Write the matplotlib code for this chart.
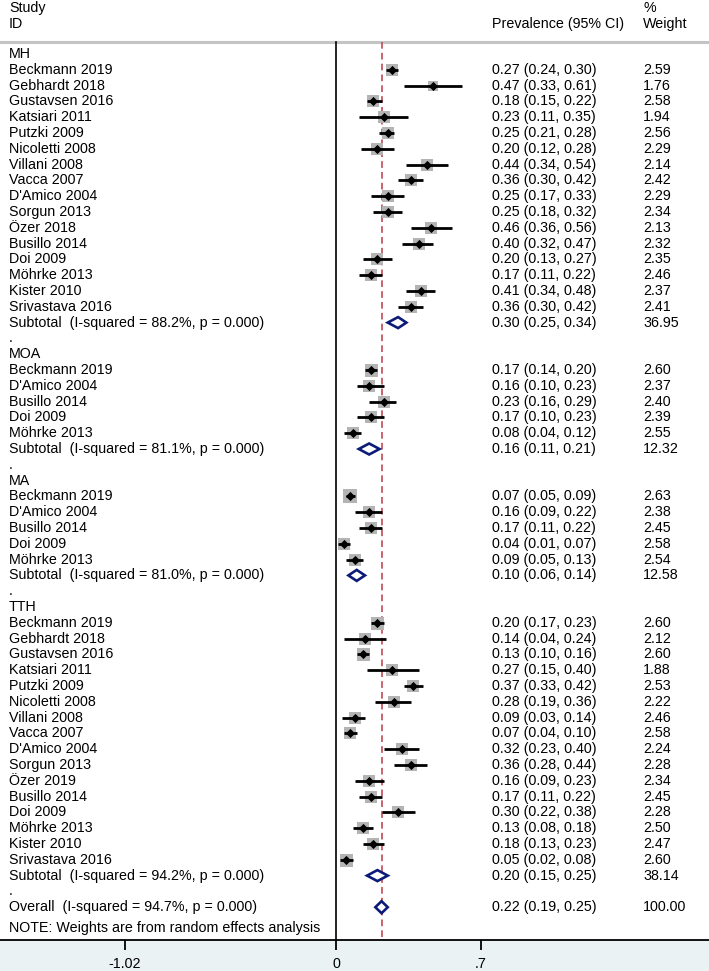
import numpy as np
import matplotlib.pyplot as plt
from matplotlib.patches import Polygon

plt.rcParams['font.family'] = ['Liberation Sans', 'DejaVu Sans']

# ---- data -------------------------------------------------------------
groups = ['MH', 'MOA', 'MA', 'TTH']

mh_studies = ['Beckmann 2019', 'Gebhardt 2018', 'Gustavsen 2016', 'Katsiari 2011', 'Putzki 2009',
              'Nicoletti 2008', 'Villani 2008', 'Vacca 2007', "D'Amico 2004", 'Sorgun 2013',
              'Özer 2018', 'Busillo 2014', 'Doi 2009', 'Möhrke 2013', 'Kister 2010', 'Srivastava 2016']
mh_est = [0.27, 0.47, 0.18, 0.23, 0.25, 0.20, 0.44, 0.36, 0.25, 0.25, 0.46, 0.40, 0.20, 0.17, 0.41, 0.36]
mh_lo = [0.24, 0.33, 0.15, 0.11, 0.21, 0.12, 0.34, 0.30, 0.17, 0.18, 0.36, 0.32, 0.13, 0.11, 0.34, 0.30]
mh_hi = [0.30, 0.61, 0.22, 0.35, 0.28, 0.28, 0.54, 0.42, 0.33, 0.32, 0.56, 0.47, 0.27, 0.22, 0.48, 0.42]
mh_w = [2.59, 1.76, 2.58, 1.94, 2.56, 2.29, 2.14, 2.42, 2.29, 2.34, 2.13, 2.32, 2.35, 2.46, 2.37, 2.41]

moa_studies = ['Beckmann 2019', "D'Amico 2004", 'Busillo 2014', 'Doi 2009', 'Möhrke 2013']
moa_est = [0.17, 0.16, 0.23, 0.17, 0.08]
moa_lo = [0.14, 0.10, 0.16, 0.10, 0.04]
moa_hi = [0.20, 0.23, 0.29, 0.23, 0.12]
moa_w = [2.60, 2.37, 2.40, 2.39, 2.55]

ma_studies = ['Beckmann 2019', "D'Amico 2004", 'Busillo 2014', 'Doi 2009', 'Möhrke 2013']
ma_est = [0.07, 0.16, 0.17, 0.04, 0.09]
ma_lo = [0.05, 0.09, 0.11, 0.01, 0.05]
ma_hi = [0.09, 0.22, 0.22, 0.07, 0.13]
ma_w = [2.63, 2.38, 2.45, 2.58, 2.54]

tth_studies = ['Beckmann 2019', 'Gebhardt 2018', 'Gustavsen 2016', 'Katsiari 2011', 'Putzki 2009',
               'Nicoletti 2008', 'Villani 2008', 'Vacca 2007', "D'Amico 2004", 'Sorgun 2013',
               'Özer 2019', 'Busillo 2014', 'Doi 2009', 'Möhrke 2013', 'Kister 2010', 'Srivastava 2016']
tth_est = [0.20, 0.14, 0.13, 0.27, 0.37, 0.28, 0.09, 0.07, 0.32, 0.36, 0.16, 0.17, 0.30, 0.13, 0.18, 0.05]
tth_lo = [0.17, 0.04, 0.10, 0.15, 0.33, 0.19, 0.03, 0.04, 0.23, 0.28, 0.09, 0.11, 0.22, 0.08, 0.13, 0.02]
tth_hi = [0.23, 0.24, 0.16, 0.40, 0.42, 0.36, 0.14, 0.10, 0.40, 0.44, 0.23, 0.22, 0.38, 0.18, 0.23, 0.08]
tth_w = [2.60, 2.12, 2.60, 1.88, 2.53, 2.22, 2.46, 2.58, 2.24, 2.28, 2.34, 2.45, 2.28, 2.50, 2.47, 2.60]

sub_i2 = ['88.2%', '81.1%', '81.0%', '94.2%']
sub_est = [0.30, 0.16, 0.10, 0.20]
sub_lo = [0.25, 0.11, 0.06, 0.15]
sub_hi = [0.34, 0.21, 0.14, 0.25]
sub_w = [36.95, 12.32, 12.58, 38.14]

overall_i2 = '94.7%'
overall_est, overall_lo, overall_hi = 0.22, 0.19, 0.25

xticks = [-1.02, 0, 0.7]
xticklabels = ['-1.02', '0', '.7']

# ---- layout helpers ---------------------------------------------------
W, H = 709, 971
AXIS_Y = 940            # pixel row of the x axis
Y0, STEP = 54, 15.8      # first row centre and row spacing (pixels)
X0, SCALE = 336, 207     # pixel of x=0, pixels per unit
FS = 10.3
NAVY = '#0d1b78'
RED = '#bf4a55'
GREY = '#b4b4b4'


def px(p):
    return (p - X0) / SCALE


def ci_text(e, l, h):
    return '%.2f (%.2f, %.2f)' % (e, l, h)


fig = plt.figure(figsize=(W / 100, H / 100), dpi=100)
fig.patch.set_facecolor('#eaf2f3')
ax = fig.add_axes([0, (H - AXIS_Y) / H, 1, AXIS_Y / H])
ax.set_facecolor('white')
ax.set_xlim(px(0), px(W))
ax.set_ylim(AXIS_Y, 0)
for s in ['top', 'left', 'right']:
    ax.spines[s].set_visible(False)
ax.spines['bottom'].set_linewidth(1.3)
ax.set_yticks([])
ax.set_xticks(xticks)
ax.set_xticklabels(xticklabels, fontsize=FS)
ax.tick_params(axis='x', length=7.5, width=1.3, pad=5)

# header
ax.text(px(9), 8, 'Study', fontsize=FS, va='center')
ax.text(px(9), 24, 'ID', fontsize=FS, va='center')
ax.text(px(492), 24, 'Prevalence (95% CI)', fontsize=FS, va='center')
ax.text(px(643), 8, '%', fontsize=FS, va='center')
ax.text(px(643), 24, 'Weight', fontsize=FS, va='center')
ax.axhline(42, color='#c4c4c4', lw=2.2)

ax.plot([0, 0], [42, AXIS_Y], color='black', lw=1.2)
ax.plot([overall_est, overall_est], [42, AXIS_Y], color=RED, lw=1.2, dashes=(4, 2.5))


def diamond(e, l, h, y, half):
    ax.add_patch(Polygon([[l, y], [e, y - half], [h, y], [e, y + half]], closed=True,
                         facecolor='white', edgecolor=NAVY, lw=1.9, zorder=5))


study_sets = [
    (mh_studies, mh_est, mh_lo, mh_hi, mh_w),
    (moa_studies, moa_est, moa_lo, moa_hi, moa_w),
    (ma_studies, ma_est, ma_lo, ma_hi, ma_w),
    (tth_studies, tth_est, tth_lo, tth_hi, tth_w),
]

row = 0
for g, (names, est, lo, hi, w) in enumerate(study_sets):
    y = Y0 + row * STEP
    ax.text(px(9), y, groups[g], fontsize=FS, va='center')
    row += 1
    for name, e, l, h, wt in zip(names, est, lo, hi, w):
        y = Y0 + row * STEP
        side = 13 * np.sqrt(wt / 2.6) * 0.72
        ax.scatter([e], [y], marker='s', s=side ** 2, color=GREY, lw=0, zorder=2)
        ax.plot([l, h], [y, y], color='black', lw=2.0, zorder=3, solid_capstyle='butt')
        ax.scatter([e], [y], marker='D', s=22, color='black', lw=0, zorder=4)
        ax.text(px(9), y, name, fontsize=FS, va='center')
        ax.text(px(492), y, ci_text(e, l, h), fontsize=FS, va='center')
        ax.text(px(643), y, '%.2f' % wt, fontsize=FS, va='center')
        row += 1
    y = Y0 + row * STEP
    diamond(sub_est[g], sub_lo[g], sub_hi[g], y, 5.5)
    ax.text(px(9), y, 'Subtotal  (I-squared = %s, p = 0.000)' % sub_i2[g], fontsize=FS, va='center')
    ax.text(px(492), y, ci_text(sub_est[g], sub_lo[g], sub_hi[g]), fontsize=FS, va='center')
    ax.text(px(643), y, '%.2f' % sub_w[g], fontsize=FS, va='center')
    row += 1
    y = Y0 + row * STEP
    ax.text(px(9), y, '.', fontsize=FS, va='center')
    row += 1

y = Y0 + row * STEP
diamond(overall_est, overall_lo, overall_hi, y, 6)
ax.text(px(9), y, 'Overall  (I-squared = %s, p = 0.000)' % overall_i2, fontsize=FS, va='center')
ax.text(px(492), y, ci_text(overall_est, overall_lo, overall_hi), fontsize=FS, va='center')
ax.text(px(643), y, '100.00', fontsize=FS, va='center')
ax.text(px(9), y + 21, 'NOTE: Weights are from random effects analysis', fontsize=FS, va='center')

fig.savefig('out.png', dpi=100, facecolor=fig.get_facecolor())
